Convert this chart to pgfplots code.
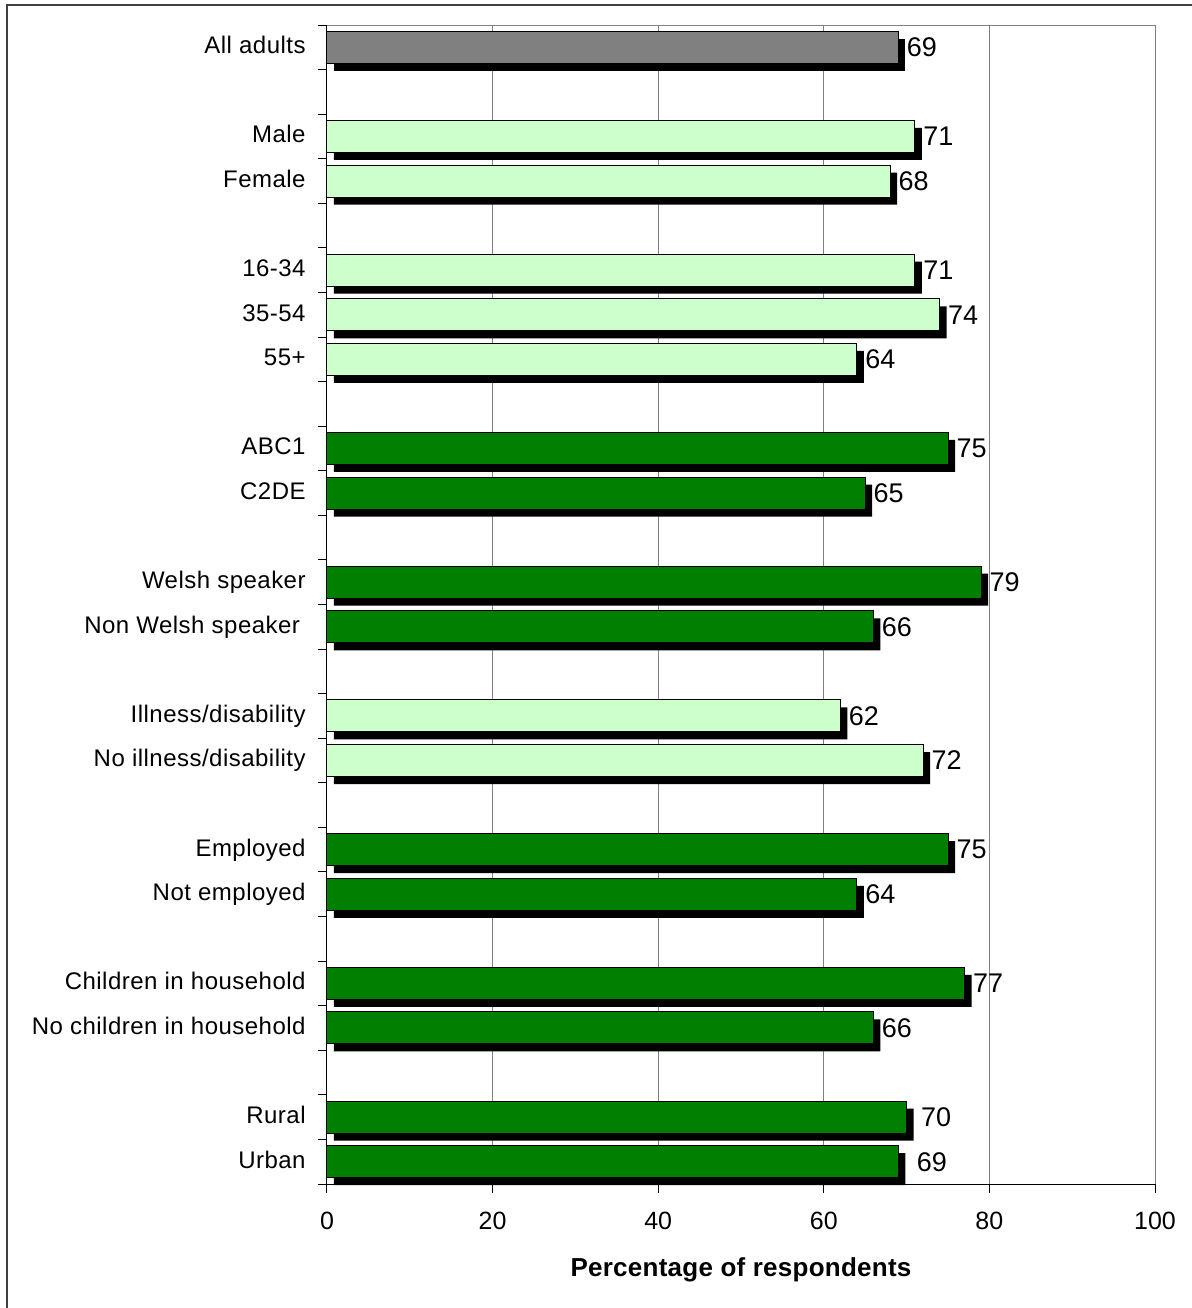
\documentclass[border=0pt]{standalone}
\usepackage{pgfplots}
\pgfplotsset{compat=1.18}
\usepackage{pgfplotstable}
\usepackage{fontspec}
\setmainfont{Liberation Sans}
\newfontfamily\catfont[LetterSpace=2.0]{Liberation Sans}
\newfontfamily\titlefont[LetterSpace=1.0]{Liberation Sans}
\definecolor{dkgreen}{HTML}{007F00}
\definecolor{ltgreen}{HTML}{CCFFCC}
\definecolor{barGray}{HTML}{808080}
\definecolor{frameGray}{HTML}{404040}
\definecolor{gridGray}{HTML}{808080}

\pgfplotstableread{
idx val off
0 69 4
}\grayData
\pgfplotstableread{
idx val off
2 71 4
3 68 4
5 71 4
6 74 4
7 64 4
15 62 4
16 72 4
}\lightData
\pgfplotstableread{
idx val off
9 75 4
10 65 4
12 79 4
13 66 4
18 75 4
19 64 4
21 77 4
22 66 4
24 70 7
25 69 9
}\darkData

\begin{document}
\begin{tikzpicture}
\path[use as bounding box] (0,0) rectangle (596pt,654pt);
\draw[frameGray, line width=1pt] (3.5pt,-2pt) -- (3.5pt,651.5pt) -- (600pt,651.5pt);
\begin{axis}[
  at={(163.5pt,62pt)}, anchor=south west,
  scale only axis, width=414pt, height=579.5pt,
  xmin=0, xmax=100, ymin=-0.5, ymax=25.5, y dir=reverse,
  xbar, bar width=16pt, bar shift=0pt,
  axis x line*=bottom, axis y line*=left,
  axis line style={-, black, line width=0.5pt},
  xtick={0,20,40,60,80,100},
  ytick={-0.5,0.5,...,25.5}, yticklabels={},
  extra y ticks={0,2,3,5,6,7,9,10,12,13,15,16,18,19,21,22,24,25},
  extra y tick labels={All adults,Male,Female,16-34,35-54,55+,ABC1,C2DE,Welsh speaker,Non Welsh speaker\hspace*{2.8pt},Illness/disability,No illness/disability,Employed,Not employed,Children in household,No children in household,Rural,Urban},
  extra y tick style={major tick length=0pt, tick style={draw=none},
    yticklabel style={anchor=base east, inner sep=0pt, xshift=-10.5pt, yshift=-3.2pt, font=\catfont\fontsize{12}{14}\selectfont}},
  tick align=outside, major tick length=4.5pt,
  tick style={black, line width=0.5pt},
  xticklabel style={anchor=north, inner sep=0pt, yshift=-9.5pt, font=\fontsize{12.5}{15}\selectfont},
  /pgf/number format/assume math mode=true,
  xmajorgrids, grid style={gridGray, line width=0.5pt},
  clip=false,
  nodes near coords, point meta=explicit,
  visualization depends on={\thisrow{off} \as \off},
  every node near coord/.append style={anchor=west, inner sep=0pt, xshift=\off pt, font=\fontsize{13.5}{16}\selectfont, black},
  shadowbar/.style={draw=black, line width=0.5pt, preaction={fill=black, draw=none, transform canvas={xshift=3.5pt, yshift=-3.75pt}}},
]
\draw[gridGray, line width=0.5pt] (axis cs:0,-0.5) -- (axis cs:100,-0.5) -- (axis cs:100,25.5);
\addplot[shadowbar, fill=barGray] table[x=val, y=idx, meta=val] {\grayData};
\addplot[shadowbar, fill=ltgreen] table[x=val, y=idx, meta=val] {\lightData};
\addplot[shadowbar, fill=dkgreen] table[x=val, y=idx, meta=val] {\darkData};
\end{axis}
\node[anchor=base, inner sep=0pt, font=\titlefont\bfseries\fontsize{13}{15}\selectfont] at (370.5pt,15.65pt) {Percentage of respondents};
\end{tikzpicture}
\end{document}
